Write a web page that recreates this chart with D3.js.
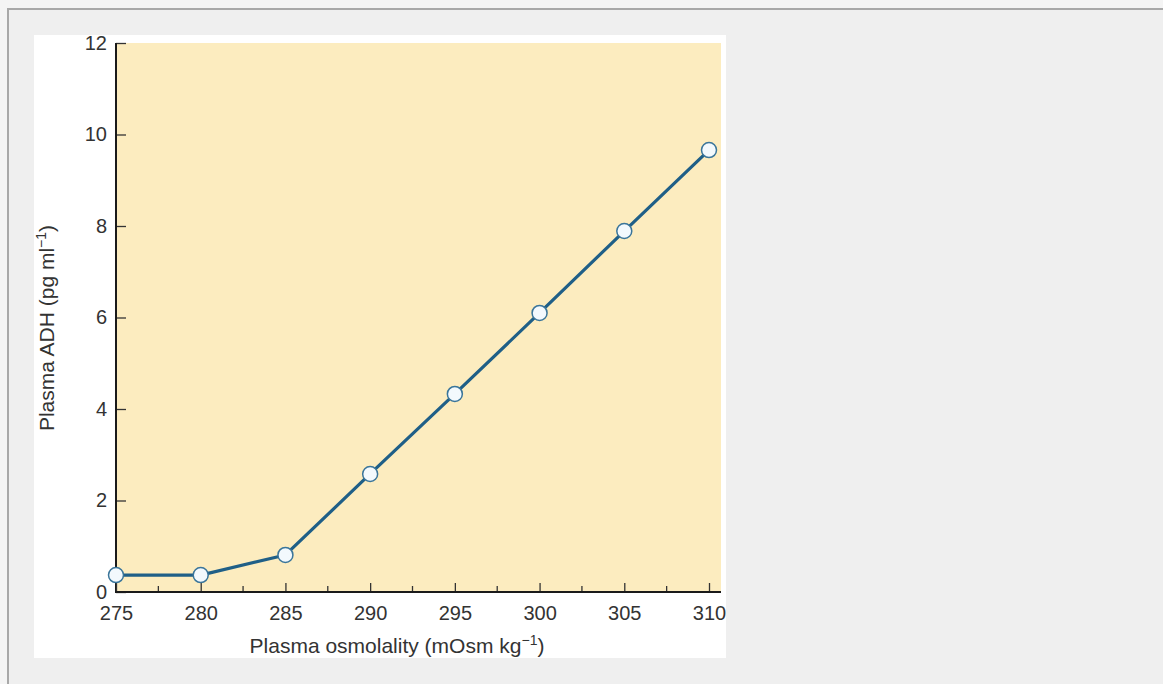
<!DOCTYPE html>
<html>
<head>
<meta charset="utf-8">
<script src="https://cdn.jsdelivr.net/npm/d3@7"></script>
<style>
  html, body { margin: 0; padding: 0; background: #f4f4f4; width: 1163px; height: 684px; overflow: hidden; }
  #frame { position: absolute; left: 7px; top: 8px; width: 1160px; height: 680px; background: #efefef;
           border-left: 2px solid #a8a8a8; border-top: 2px solid #a8a8a8; box-sizing: border-box; }
  #panel { position: absolute; left: 34px; top: 35px; width: 692px; height: 623px; background: #ffffff; }
  svg { position: absolute; left: 0; top: 0; }
  text { font-family: "Liberation Sans", Arial, sans-serif; fill: #333; }
</style>
</head>
<body>
<div id="frame"></div>
<div id="panel"></div>
<svg id="chart" width="1163" height="684"></svg>
<script>
const osmolality = [275, 280, 285, 290, 295, 300, 305, 310];
const adh = [0.37, 0.37, 0.81, 2.58, 4.33, 6.1, 7.89, 9.66];
const xMajorTicks = [275, 280, 285, 290, 295, 300, 305, 310];
const xMinorTicks = [277.5, 282.5, 287.5, 292.5, 297.5, 302.5, 307.5];
const yTicks = [0, 2, 4, 6, 8, 10, 12];
const xTitle = "Plasma osmolality (mOsm kg";
const yTitle = "Plasma ADH (pg ml";

const svg = d3.select("#chart");
const x = d3.scaleLinear().domain([275, 310]).range([116, 709]);
const y = d3.scaleLinear().domain([0, 12]).range([592, 43]);
const plotRight = 721;
const font = '"Liberation Sans", Arial, sans-serif';

// background
svg.append("rect")
  .attr("x", x(275)).attr("y", y(12))
  .attr("width", plotRight - x(275)).attr("height", y(0) - y(12))
  .attr("fill", "#fcecbf");

// y axis
const yAxis = svg.append("g").attr("transform", `translate(${x(275)},0)`)
  .call(d3.axisLeft(y).tickValues(yTicks).tickSize(-10).tickPadding(9).tickFormat(d3.format("d")));
yAxis.select(".domain").remove();
yAxis.selectAll(".tick line").attr("stroke", "#333").attr("stroke-width", 1.3);
yAxis.selectAll(".tick text").attr("font-size", 20).attr("fill", "#333").attr("font-family", font);
svg.append("line").attr("x1", x(275)).attr("x2", x(275)).attr("y1", y(12)).attr("y2", y(0) + 1)
  .attr("stroke", "#1a1a1a").attr("stroke-width", 2);

// x axis
const xAxis = svg.append("g").attr("transform", `translate(0,${y(0)})`)
  .call(d3.axisBottom(x).tickValues(xMajorTicks).tickSize(-9).tickPadding(14).tickFormat(d3.format("d")));
xAxis.select(".domain").remove();
xAxis.selectAll(".tick line").attr("stroke", "#333").attr("stroke-width", 1.3);
xAxis.selectAll(".tick text").attr("font-size", 20).attr("fill", "#333").attr("font-family", font);
svg.append("g").selectAll("line").data(xMinorTicks).join("line")
  .attr("x1", d => x(d)).attr("x2", d => x(d)).attr("y1", y(0)).attr("y2", y(0) - 6)
  .attr("stroke", "#333").attr("stroke-width", 1.3);
svg.append("line").attr("x1", x(275) - 1).attr("x2", plotRight).attr("y1", y(0)).attr("y2", y(0))
  .attr("stroke", "#1a1a1a").attr("stroke-width", 2);

// line
const pts = osmolality.map((o, i) => [o, adh[i]]);
svg.append("path").datum(pts)
  .attr("fill", "none").attr("stroke", "#1f5f87").attr("stroke-width", 3.2)
  .attr("stroke-linejoin", "round")
  .attr("d", d3.line().x(d => x(d[0])).y(d => y(d[1])));
svg.append("g").selectAll("circle").data(pts).join("circle")
  .attr("cx", d => x(d[0])).attr("cy", d => y(d[1])).attr("r", 7.5)
  .attr("fill", "#f3f9fd").attr("stroke", "#3a759a").attr("stroke-width", 1.5);

// titles
const xt = svg.append("text").attr("x", 397).attr("y", 653).attr("text-anchor", "middle")
  .attr("font-size", 21);
xt.append("tspan").text(xTitle);
xt.append("tspan").attr("dy", -8).attr("font-size", 14).text("\u22121");
xt.append("tspan").attr("dy", 8).text(")");

const yt = svg.append("text").attr("transform", "translate(54,328) rotate(-90)")
  .attr("text-anchor", "middle").attr("font-size", 21);
yt.append("tspan").text(yTitle);
yt.append("tspan").attr("dy", -8).attr("font-size", 14).text("\u22121");
yt.append("tspan").attr("dy", 8).text(")");
</script>
</body>
</html>
